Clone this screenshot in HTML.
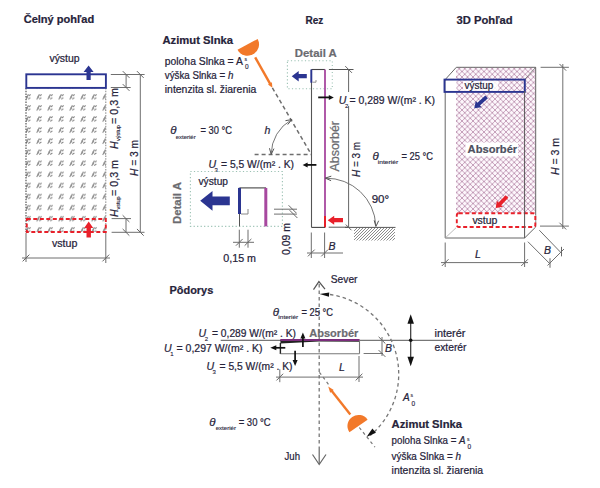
<!DOCTYPE html><html><head><meta charset="utf-8"><style>html,body{margin:0;padding:0;background:#fff;width:600px;height:488px;overflow:hidden}svg{display:block;font-family:"Liberation Sans",sans-serif}</style></head><body><svg width="600" height="488" viewBox="0 0 600 488" font-family="Liberation Sans, sans-serif">
<defs>
<pattern id="hx" x="23" y="91.2" width="11" height="11.08" patternUnits="userSpaceOnUse"><path d="M2.7,8.3 L5.4,3.1 M5.7,4.6 L7.7,3.2 M5.2,7.9 L7.4,6.4 M3.4,5.2 L5.0,6.6" stroke="#858585" stroke-width="1.05" fill="none"/></pattern>
<pattern id="lat" x="0" y="0" width="5.5" height="5.5" patternUnits="userSpaceOnUse"><rect width="5.5" height="5.5" fill="#fdf7fc"/><path d="M-1,-1 L6.5,6.5 M6.5,-1 L-1,6.5" stroke="#ad7a9f" stroke-width="0.7" fill="none"/></pattern>
<pattern id="gh" x="0" y="0" width="3" height="3" patternUnits="userSpaceOnUse"><path d="M0,3 L3,0 M-1,1 L1,-1 M2,4 L4,2" stroke="#666" stroke-width="0.75"/></pattern>
</defs>
<rect width="600" height="488" fill="#fff"/>
<text x="23.7" y="23.2" font-size="10.2" font-weight="bold" fill="#26233a" stroke="#26233a" stroke-width="0.2" textLength="70.5" lengthAdjust="spacingAndGlyphs" text-anchor="start" >Čelný pohľad</text>
<text x="305.5" y="23.5" font-size="10.2" font-weight="bold" fill="#26233a" stroke="#26233a" stroke-width="0.2" textLength="17.8" lengthAdjust="spacingAndGlyphs" text-anchor="start" >Rez</text>
<text x="456.6" y="23.5" font-size="10.2" font-weight="bold" fill="#26233a" stroke="#26233a" stroke-width="0.2" textLength="56" lengthAdjust="spacingAndGlyphs" text-anchor="start" >3D Pohľad</text>
<text x="169.5" y="293.8" font-size="10.2" font-weight="bold" fill="#26233a" stroke="#26233a" stroke-width="0.2" textLength="43.8" lengthAdjust="spacingAndGlyphs" text-anchor="start" >Pôdorys</text>
<rect x="26" y="88" width="80" height="144" fill="url(#hx)"/>
<line x1="26" y1="88" x2="26" y2="232" stroke="#555" stroke-width="1.2" stroke-dasharray="1.5,1.2" />
<line x1="105.8" y1="88" x2="105.8" y2="232" stroke="#888" stroke-width="1" stroke-dasharray="1.5,1.2" />
<rect x="26.3" y="74.3" width="79.6" height="13.6" fill="#fff" stroke="#2b3591" stroke-width="1.9"/>
<polygon points="90.70,80.00 90.70,71.90 93.60,71.90 88.60,65.40 83.60,71.90 86.50,71.90 86.50,80.00" fill="#2b3591"/>
<text x="49.4" y="62" font-size="10.2" font-weight="normal" fill="#26233a" stroke="#26233a" stroke-width="0.22" textLength="30.3" lengthAdjust="spacingAndGlyphs" text-anchor="start" >výstup</text>
<rect x="26.8" y="219" width="79" height="13" fill="none" stroke="#e8202a" stroke-width="1.9" stroke-dasharray="4,2.5"/>
<polygon points="90.90,237.50 90.90,228.00 93.20,228.00 88.70,221.50 84.20,228.00 86.50,228.00 86.50,237.50" fill="#e8202a"/>
<text x="51.9" y="246.7" font-size="10.2" font-weight="normal" fill="#26233a" stroke="#26233a" stroke-width="0.22" textLength="25.5" lengthAdjust="spacingAndGlyphs" text-anchor="start" >vstup</text>
<line x1="26" y1="233" x2="26" y2="262" stroke="#6f6f6f" stroke-width="1" />
<line x1="105.8" y1="233" x2="105.8" y2="263" stroke="#6f6f6f" stroke-width="1" />
<line x1="22" y1="258" x2="110" y2="258" stroke="#6f6f6f" stroke-width="1" />
<line x1="22.64" y1="261.36" x2="29.36" y2="254.64" stroke="#666" stroke-width="1.0" />
<line x1="102.44" y1="261.36" x2="109.16" y2="254.64" stroke="#666" stroke-width="1.0" />
<line x1="110.8" y1="74.5" x2="144.6" y2="74.5" stroke="#6f6f6f" stroke-width="1" />
<line x1="110.8" y1="87.5" x2="130.7" y2="87.5" stroke="#6f6f6f" stroke-width="1" />
<line x1="126.1" y1="74.5" x2="126.1" y2="87.5" stroke="#6f6f6f" stroke-width="1" />
<line x1="122.74" y1="71.14" x2="129.46" y2="77.86" stroke="#666" stroke-width="1.0" />
<line x1="122.74" y1="84.14" x2="129.46" y2="90.86" stroke="#666" stroke-width="1.0" />
<line x1="140.3" y1="74.5" x2="140.3" y2="232.3" stroke="#6f6f6f" stroke-width="1" />
<line x1="136.94" y1="71.14" x2="143.66" y2="77.86" stroke="#666" stroke-width="1.0" />
<line x1="136.94" y1="228.94" x2="143.66" y2="235.66" stroke="#666" stroke-width="1.0" />
<line x1="111.6" y1="218.6" x2="131" y2="218.6" stroke="#6f6f6f" stroke-width="1" />
<line x1="111.6" y1="232.3" x2="144.5" y2="232.3" stroke="#6f6f6f" stroke-width="1" />
<line x1="126" y1="218.6" x2="126" y2="232.3" stroke="#6f6f6f" stroke-width="1" />
<line x1="122.64" y1="215.24" x2="129.36" y2="221.96" stroke="#666" stroke-width="1.0" />
<line x1="122.64" y1="228.94" x2="129.36" y2="235.66" stroke="#666" stroke-width="1.0" />
<text x="118" y="149" font-size="10.5" font-weight="normal" fill="#26233a" stroke="#26233a" stroke-width="0.22" transform="rotate(-90 118 149)" text-anchor="start" ><tspan font-style="italic">H</tspan></text>
<text x="120" y="141" font-size="5.5" font-weight="normal" fill="#26233a" stroke="#26233a" stroke-width="0.12" transform="rotate(-90 120 141)" text-anchor="start" >výstup</text>
<text x="118" y="124" font-size="10.5" font-weight="normal" fill="#26233a" stroke="#26233a" stroke-width="0.22" textLength="36" lengthAdjust="spacingAndGlyphs" transform="rotate(-90 118 124)" text-anchor="start" >= 0,3 m</text>
<text x="118" y="217" font-size="10.5" font-weight="normal" fill="#26233a" stroke="#26233a" stroke-width="0.22" transform="rotate(-90 118 217)" text-anchor="start" ><tspan font-style="italic">H</tspan></text>
<text x="120" y="209.5" font-size="5.5" font-weight="normal" fill="#26233a" stroke="#26233a" stroke-width="0.12" transform="rotate(-90 120 209.5)" text-anchor="start" >vstup</text>
<text x="118" y="196" font-size="10.5" font-weight="normal" fill="#26233a" stroke="#26233a" stroke-width="0.22" textLength="36" lengthAdjust="spacingAndGlyphs" transform="rotate(-90 118 196)" text-anchor="start" >= 0,3 m</text>
<text x="137.5" y="176" font-size="10.5" font-weight="normal" fill="#26233a" stroke="#26233a" stroke-width="0.22" textLength="36" lengthAdjust="spacingAndGlyphs" transform="rotate(-90 137.5 176)" text-anchor="start" ><tspan font-style="italic">H</tspan> = 3 m</text>
<text x="162.5" y="44.3" font-size="10.8" font-weight="bold" fill="#26233a" stroke="#26233a" stroke-width="0.2" textLength="70.5" lengthAdjust="spacingAndGlyphs" text-anchor="start" >Azimut Slnka</text>
<text x="164.8" y="65" font-size="10" font-weight="normal" fill="#26233a" stroke="#26233a" stroke-width="0.22" textLength="78" lengthAdjust="spacingAndGlyphs" text-anchor="start" >poloha Slnka = A</text>
<text x="244.5" y="60.5" font-size="5" font-weight="normal" fill="#26233a" stroke="#26233a" stroke-width="0.11" text-anchor="start" >s</text>
<text x="245" y="68.5" font-size="6.5" font-weight="normal" fill="#26233a" stroke="#26233a" stroke-width="0.14" text-anchor="start" >0</text>
<text x="164.8" y="78.5" font-size="10" font-weight="normal" fill="#26233a" stroke="#26233a" stroke-width="0.22" textLength="68.5" lengthAdjust="spacingAndGlyphs" text-anchor="start" >výška Slnka = <tspan font-style="italic">h</tspan></text>
<text x="164.8" y="92.5" font-size="10" font-weight="normal" fill="#26233a" stroke="#26233a" stroke-width="0.22" textLength="91.5" lengthAdjust="spacingAndGlyphs" text-anchor="start" >intenzita sl. žiarenia</text>
<path d="M237.53,49.65 A11.4,11.4 0 0 0 257.67,38.95 Z" fill="#f2792a"/>
<line x1="255.2" y1="57.3" x2="270.44" y2="84.32" stroke="#f2792a" stroke-width="2.4" />
<polygon points="272.4,87.8 267.98,84.55 271.90,82.34" fill="#f2792a"/>
<line x1="272.4" y1="87.8" x2="311" y2="154" stroke="#6e6e6e" stroke-width="1.5" stroke-dasharray="4,3" />
<line x1="254.6" y1="154.5" x2="311" y2="154.5" stroke="#6e6e6e" stroke-width="1.5" stroke-dasharray="4,3" />
<path d="M291.5,119.7 A40,40 0 0 0 271.2,154.2" stroke="#666" stroke-width="0.9" fill="none" />
<path d="M287.73,124.55 L291.8,119.6 L285.48,120.65" stroke="#555" stroke-width="1" fill="none"/>
<path d="M269.48,148.23 L271.2,154.4 L273.96,148.62" stroke="#555" stroke-width="1" fill="none"/>
<text x="264.5" y="134.4" font-size="10.5" font-weight="normal" fill="#26233a" stroke="#26233a" stroke-width="0.22" font-style="italic" text-anchor="start" >h</text>
<text x="170.3" y="133.6" font-size="11.5" font-weight="normal" fill="#26233a" stroke="#26233a" stroke-width="0.22" font-style="italic" text-anchor="start" >θ</text>
<text x="175.7" y="138.5" font-size="5" font-weight="normal" fill="#26233a" stroke="#26233a" stroke-width="0.11" textLength="20" lengthAdjust="spacingAndGlyphs" text-anchor="start" >exteriér</text>
<text x="200.5" y="133.6" font-size="10.3" font-weight="normal" fill="#26233a" stroke="#26233a" stroke-width="0.22" textLength="31.5" lengthAdjust="spacingAndGlyphs" text-anchor="start" >= 30 °C</text>
<text x="294.8" y="56.9" font-size="10.8" font-weight="bold" fill="#6b6b70" stroke="#6b6b70" stroke-width="0.2" textLength="42" lengthAdjust="spacingAndGlyphs" text-anchor="start" >Detail A</text>
<rect x="287.4" y="60.8" width="44.9" height="27.9" fill="none" stroke="#9cc2b4" stroke-width="1.1" stroke-dasharray="1.2,2.3"/>
<polygon points="306.80,74.10 298.70,74.10 298.70,71.00 291.70,76.20 298.70,81.40 298.70,78.30 306.80,78.30" fill="#2b3591"/>
<line x1="311.5" y1="69.5" x2="311.5" y2="227.4" stroke="#555" stroke-width="1.1" />
<line x1="311.5" y1="69.5" x2="325" y2="69.5" stroke="#444" stroke-width="1.1" />
<line x1="325" y1="69.5" x2="325" y2="216" stroke="#a7489f" stroke-width="1.8" />
<line x1="325" y1="216" x2="325" y2="227.4" stroke="#e8202a" stroke-width="2" />
<line x1="311.3" y1="69.5" x2="311.3" y2="82.7" stroke="#2b3591" stroke-width="1.9" />
<path d="M312.5,82.2 L316,82.2 L316,80" stroke="#777" stroke-width="0.8" fill="none" />
<line x1="311.5" y1="227.4" x2="325" y2="227.4" stroke="#444" stroke-width="1.1" />
<line x1="328.7" y1="227.2" x2="349" y2="227.2" stroke="#555" stroke-width="1" />
<line x1="348.6" y1="69.5" x2="348.6" y2="227.4" stroke="#666" stroke-width="1" />
<line x1="328.9" y1="69.5" x2="353.5" y2="69.5" stroke="#555" stroke-width="1" />
<line x1="345.24" y1="66.14" x2="351.96" y2="72.86" stroke="#666" stroke-width="1.0" />
<rect x="336" y="92" width="100" height="14" fill="#fff"/>
<line x1="318.2" y1="97.4" x2="329.8" y2="97.4" stroke="#111" stroke-width="1.8" />
<polygon points="333.8,97.4 328.80,99.90 328.80,94.90" fill="#111"/>
<text x="338.7" y="104" font-size="10.5" font-weight="normal" fill="#26233a" stroke="#26233a" stroke-width="0.22" font-style="italic" text-anchor="start" >U</text>
<text x="345" y="107.5" font-size="6" font-weight="normal" fill="#26233a" stroke="#26233a" stroke-width="0.13" text-anchor="start" >2</text>
<text x="349.5" y="104" font-size="10.2" font-weight="normal" fill="#26233a" stroke="#26233a" stroke-width="0.22" textLength="85.5" lengthAdjust="spacingAndGlyphs" text-anchor="start" >= 0,289 W/(m² . K)</text>
<text x="339" y="171.5" font-size="12" font-weight="normal" fill="#6b6b70" stroke="#6b6b70" stroke-width="0.22" textLength="50.5" lengthAdjust="spacingAndGlyphs" transform="rotate(-90 339 171.5)" text-anchor="start" >Absorbér</text>
<text x="359.5" y="177" font-size="10.5" font-weight="normal" fill="#26233a" stroke="#26233a" stroke-width="0.22" textLength="35" lengthAdjust="spacingAndGlyphs" transform="rotate(-90 359.5 177)" text-anchor="start" ><tspan font-style="italic">H</tspan> = 3 m</text>
<text x="372.5" y="159.6" font-size="11.5" font-weight="normal" fill="#26233a" stroke="#26233a" stroke-width="0.22" font-style="italic" text-anchor="start" >θ</text>
<text x="377.7" y="164.3" font-size="5" font-weight="normal" fill="#26233a" stroke="#26233a" stroke-width="0.11" textLength="20.5" lengthAdjust="spacingAndGlyphs" text-anchor="start" >interiér</text>
<text x="401.5" y="159.6" font-size="10.3" font-weight="normal" fill="#26233a" stroke="#26233a" stroke-width="0.22" textLength="31.5" lengthAdjust="spacingAndGlyphs" text-anchor="start" >= 25 °C</text>
<text x="208.4" y="168.2" font-size="10.5" font-weight="normal" fill="#26233a" stroke="#26233a" stroke-width="0.22" font-style="italic" text-anchor="start" >U</text>
<text x="214.5" y="171.5" font-size="6" font-weight="normal" fill="#26233a" stroke="#26233a" stroke-width="0.13" text-anchor="start" >3</text>
<text x="221" y="168.2" font-size="10.2" font-weight="normal" fill="#26233a" stroke="#26233a" stroke-width="0.22" textLength="73" lengthAdjust="spacingAndGlyphs" text-anchor="start" >= 5,5 W/(m² . K)</text>
<line x1="316.4" y1="164.9" x2="306.6" y2="164.9" stroke="#111" stroke-width="1.8" />
<polygon points="302.6,164.9 307.60,162.40 307.60,167.40" fill="#111"/>
<path d="M325.6,178.2 A49.5,49.5 0 0 1 375.8,225.3" stroke="#666" stroke-width="0.9" fill="none" />
<path d="M331.31,176.17 L325.2,178.1 L331.07,180.66" stroke="#555" stroke-width="1" fill="none"/>
<path d="M374.18,220.33 L375.9,226.5 L378.66,220.72" stroke="#555" stroke-width="1" fill="none"/>
<text x="371.7" y="202.8" font-size="10.5" font-weight="normal" fill="#26233a" stroke="#26233a" stroke-width="0.22" textLength="17.5" lengthAdjust="spacingAndGlyphs" text-anchor="start" >90°</text>
<polygon points="343.00,218.05 334.20,218.05 334.20,215.70 327.70,220.20 334.20,224.70 334.20,222.35 343.00,222.35" fill="#e8202a"/>
<rect x="354" y="228" width="41" height="12.5" fill="url(#gh)"/>
<line x1="345" y1="227.4" x2="395.5" y2="227.4" stroke="#555" stroke-width="1" />
<line x1="345.77" y1="224.57" x2="351.43" y2="230.23" stroke="#666" stroke-width="1.0" />
<line x1="311.3" y1="232.5" x2="311.3" y2="258" stroke="#6f6f6f" stroke-width="1" />
<line x1="324.6" y1="232.5" x2="324.6" y2="258" stroke="#6f6f6f" stroke-width="1" />
<line x1="307" y1="253" x2="343" y2="253" stroke="#6f6f6f" stroke-width="1" />
<line x1="307.94" y1="256.36" x2="314.66" y2="249.64" stroke="#666" stroke-width="1.0" />
<line x1="321.24" y1="256.36" x2="327.96" y2="249.64" stroke="#666" stroke-width="1.0" />
<text x="328.5" y="250" font-size="10.5" font-weight="normal" fill="#26233a" stroke="#26233a" stroke-width="0.22" font-style="italic" text-anchor="start" >B</text>
<text x="181.4" y="224" font-size="11" font-weight="bold" fill="#6b6b70" stroke="#6b6b70" stroke-width="0.2" textLength="42" lengthAdjust="spacingAndGlyphs" transform="rotate(-90 181.4 224)" text-anchor="start" >Detail A</text>
<rect x="190.4" y="171.5" width="92" height="54.9" fill="none" stroke="#9cc2b4" stroke-width="1.1" stroke-dasharray="1.2,2.3"/>
<text x="198.5" y="185.4" font-size="10.2" font-weight="normal" fill="#26233a" stroke="#26233a" stroke-width="0.22" textLength="29.5" lengthAdjust="spacingAndGlyphs" text-anchor="start" >výstup</text>
<polygon points="229.80,196.45 212.50,196.45 212.50,190.95 200.20,200.80 212.50,210.65 212.50,205.15 229.80,205.15" fill="#2b3591"/>
<line x1="239.5" y1="187.9" x2="239.5" y2="226.4" stroke="#555" stroke-width="1" />
<line x1="239.5" y1="187.9" x2="266" y2="187.9" stroke="#444" stroke-width="1.1" />
<line x1="265.8" y1="187.9" x2="265.8" y2="226.4" stroke="#a7489f" stroke-width="3" />
<line x1="239.5" y1="187.9" x2="239.5" y2="214" stroke="#2b3591" stroke-width="3" />
<path d="M241,214 L248,214 L248,209" stroke="#888" stroke-width="1" fill="none" />
<line x1="274" y1="209.2" x2="297" y2="209.2" stroke="#6f6f6f" stroke-width="1" />
<line x1="274" y1="214.1" x2="297" y2="214.1" stroke="#6f6f6f" stroke-width="1" />
<line x1="288.61" y1="205.31" x2="296.39" y2="213.09" stroke="#666" stroke-width="1" />
<line x1="289.61" y1="210.21" x2="297.39" y2="217.99" stroke="#666" stroke-width="1" />
<line x1="239.3" y1="229.7" x2="239.3" y2="247.7" stroke="#6f6f6f" stroke-width="1" />
<line x1="248" y1="229.7" x2="248" y2="247.7" stroke="#6f6f6f" stroke-width="1" />
<line x1="233" y1="242.3" x2="254" y2="242.3" stroke="#6f6f6f" stroke-width="1" />
<line x1="235.94" y1="245.66" x2="242.66" y2="238.94" stroke="#666" stroke-width="1.0" />
<line x1="244.64" y1="245.66" x2="251.36" y2="238.94" stroke="#666" stroke-width="1.0" />
<text x="223.3" y="261.7" font-size="10.2" font-weight="normal" fill="#26233a" stroke="#26233a" stroke-width="0.22" textLength="32.7" lengthAdjust="spacingAndGlyphs" text-anchor="start" >0,15 m</text>
<text x="290" y="255" font-size="10.2" font-weight="normal" fill="#26233a" stroke="#26233a" stroke-width="0.22" textLength="32" lengthAdjust="spacingAndGlyphs" transform="rotate(-90 290 255)" text-anchor="start" >0,09 m</text>
<rect x="456" y="67.3" width="79.7" height="146" fill="url(#lat)"/>
<path d="M445.2,79.6 L456.3,67.3 L535.7,67.3 L535.7,227 L524.6,238 L445.2,238 Z" stroke="#666" stroke-width="1" fill="none" />
<line x1="524.6" y1="79.6" x2="535.7" y2="67.3" stroke="#666" stroke-width="0.8" />
<line x1="445.2" y1="238" x2="456" y2="227.8" stroke="#aaa" stroke-width="0.8" />
<rect x="445.5" y="80.5" width="11" height="10.5" fill="#fff"/>
<rect x="463" y="80.5" width="35" height="10.5" fill="#fff" opacity="0.85"/>
<rect x="444.5" y="79.6" width="80.3" height="12.3" fill="none" stroke="#2b3591" stroke-width="1.9"/>
<text x="464.5" y="88.6" font-size="10.2" font-weight="normal" fill="#26233a" stroke="#26233a" stroke-width="0.22" textLength="28.7" lengthAdjust="spacingAndGlyphs" text-anchor="start" >výstup</text>
<polygon points="485.30,95.41 477.39,102.81 475.78,101.10 474.30,108.30 481.59,107.31 479.98,105.59 487.90,98.19" fill="#2b3591"/>
<rect x="456.8" y="213.3" width="78.5" height="13.7" rx="2" fill="#fff" stroke="#e8202a" stroke-width="1.9" stroke-dasharray="4,2.5"/>
<text x="472.4" y="223.7" font-size="10.2" font-weight="normal" fill="#26233a" stroke="#26233a" stroke-width="0.22" textLength="25" lengthAdjust="spacingAndGlyphs" text-anchor="start" >vstup</text>
<line x1="524.6" y1="91" x2="524.6" y2="238" stroke="#555" stroke-width="1" />
<polygon points="505.64,195.17 498.53,202.48 496.84,200.84 495.70,208.10 502.93,206.77 501.25,205.13 508.36,197.83" fill="#e8202a"/>
<rect x="465.5" y="142.5" width="52.5" height="14" fill="#fff"/>
<text x="467.6" y="152.5" font-size="11.6" font-weight="bold" fill="#4d4f5e" stroke="#4d4f5e" stroke-width="0.2" textLength="49.6" lengthAdjust="spacingAndGlyphs" text-anchor="start" >Absorbér</text>
<line x1="540.6" y1="67.3" x2="568.9" y2="67.3" stroke="#6f6f6f" stroke-width="1" />
<line x1="540" y1="226.1" x2="568.9" y2="226.1" stroke="#6f6f6f" stroke-width="1" />
<line x1="562.8" y1="64" x2="562.8" y2="229" stroke="#6f6f6f" stroke-width="1" />
<line x1="559.44" y1="63.94" x2="566.16" y2="70.66" stroke="#666" stroke-width="1.0" />
<line x1="559.44" y1="222.74" x2="566.16" y2="229.46" stroke="#666" stroke-width="1.0" />
<text x="559" y="175" font-size="10.5" font-weight="normal" fill="#26233a" stroke="#26233a" stroke-width="0.22" textLength="37" lengthAdjust="spacingAndGlyphs" transform="rotate(-90 559 175)" text-anchor="start" ><tspan font-style="italic">H</tspan> = 3 m</text>
<line x1="445.2" y1="242.5" x2="445.2" y2="267" stroke="#6f6f6f" stroke-width="1" />
<line x1="524.6" y1="242.5" x2="524.6" y2="267" stroke="#6f6f6f" stroke-width="1" />
<line x1="441" y1="262.6" x2="528" y2="262.6" stroke="#6f6f6f" stroke-width="1" />
<line x1="441.84" y1="265.96" x2="448.56" y2="259.24" stroke="#666" stroke-width="1.0" />
<line x1="521.24" y1="265.96" x2="527.96" y2="259.24" stroke="#666" stroke-width="1.0" />
<text x="475" y="258" font-size="10.5" font-weight="normal" fill="#26233a" stroke="#26233a" stroke-width="0.22" font-style="italic" text-anchor="start" >L</text>
<line x1="539.3" y1="230.2" x2="561.5" y2="253.2" stroke="#6f6f6f" stroke-width="1" />
<line x1="527.9" y1="241.7" x2="550" y2="263.9" stroke="#6f6f6f" stroke-width="1" />
<line x1="564" y1="249" x2="547.5" y2="265.5" stroke="#6f6f6f" stroke-width="1" />
<line x1="561.5" y1="246.85" x2="561.5" y2="256.35" stroke="#666" stroke-width="1.0" />
<line x1="550.0" y1="258.25" x2="550.0" y2="267.75" stroke="#666" stroke-width="1.0" />
<text x="544" y="254" font-size="10.5" font-weight="normal" fill="#26233a" stroke="#26233a" stroke-width="0.22" font-style="italic" text-anchor="start" >B</text>
<line x1="319.2" y1="284" x2="319.2" y2="447" stroke="#777" stroke-width="1.3" stroke-dasharray="3.5,3" />
<path d="M313.5,289.6 L318.9,281.6 L325,289.2" stroke="#555" stroke-width="1.2" fill="none" />
<path d="M312.5,454.5 L319.2,464.5 L326,454.5" stroke="#666" stroke-width="1.2" fill="none" />
<line x1="319.2" y1="447" x2="319.2" y2="464" stroke="#666" stroke-width="1.2" />
<text x="330.8" y="282.5" font-size="10.2" font-weight="normal" fill="#26233a" stroke="#26233a" stroke-width="0.22" textLength="26.7" lengthAdjust="spacingAndGlyphs" text-anchor="start" >Sever</text>
<text x="284.5" y="459.5" font-size="10.2" font-weight="normal" fill="#26233a" stroke="#26233a" stroke-width="0.22" textLength="15.5" lengthAdjust="spacingAndGlyphs" text-anchor="start" >Juh</text>
<path d="M330,294.5 A80.5,80.5 0 0 1 370.2,435.6" stroke="#777" stroke-width="1.3" fill="none" stroke-dasharray="3.5,3" />
<polygon points="319.6,294 329.22,292.57 328.93,296.76" fill="#111"/>
<polygon points="366.5,437 372.39,428.47 375.93,432.68" fill="#111"/>
<line x1="220.7" y1="340.3" x2="452" y2="340.3" stroke="#777" stroke-width="1.2" />
<path d="M280.4,339.8 L359.5,339.8 L359.5,341.8 L319,341.6 L280.4,343.6 Z" fill="#222"/>
<line x1="280.4" y1="339.9" x2="359.5" y2="339.9" stroke="#7b2c7b" stroke-width="2" />
<line x1="280.4" y1="343" x2="280.4" y2="354" stroke="#222" stroke-width="1.4" />
<line x1="280.4" y1="353.7" x2="359.5" y2="353.7" stroke="#777" stroke-width="1.1" />
<line x1="359.5" y1="340" x2="359.5" y2="353.7" stroke="#777" stroke-width="1.1" />
<line x1="363.6" y1="353.5" x2="383" y2="353.5" stroke="#777" stroke-width="1" />
<line x1="382" y1="337" x2="382" y2="356" stroke="#6f6f6f" stroke-width="1" />
<line x1="378.64" y1="336.84" x2="385.36" y2="343.56" stroke="#666" stroke-width="1.0" />
<line x1="378.64" y1="350.14" x2="385.36" y2="356.86" stroke="#666" stroke-width="1.0" />
<text x="385" y="351.5" font-size="10.5" font-weight="normal" fill="#26233a" stroke="#26233a" stroke-width="0.22" font-style="italic" text-anchor="start" >B</text>
<line x1="302.9" y1="347.1" x2="302.9" y2="337.3" stroke="#111" stroke-width="1.7" />
<polygon points="302.9,332.5 305.40,338.50 300.40,338.50" fill="#111"/>
<line x1="285.3" y1="347.8" x2="275.1" y2="347.8" stroke="#111" stroke-width="1.7" />
<polygon points="270.3,347.8 276.30,345.30 276.30,350.30" fill="#111"/>
<line x1="295.1" y1="350.8" x2="295.1" y2="361.2" stroke="#111" stroke-width="1.7" />
<polygon points="295.1,366 292.60,360.00 297.60,360.00" fill="#111"/>
<text x="309.3" y="337" font-size="11.3" font-weight="bold" fill="#6b6b70" stroke="#6b6b70" stroke-width="0.2" textLength="49" lengthAdjust="spacingAndGlyphs" text-anchor="start" >Absorbér</text>
<line x1="279.8" y1="369.3" x2="279.8" y2="382.2" stroke="#6f6f6f" stroke-width="1" />
<line x1="359" y1="356" x2="359" y2="382" stroke="#6f6f6f" stroke-width="1" />
<line x1="276" y1="377.1" x2="363" y2="377.1" stroke="#6f6f6f" stroke-width="1" />
<line x1="276.44" y1="380.46" x2="283.16" y2="373.74" stroke="#666" stroke-width="1.0" />
<line x1="355.64" y1="380.46" x2="362.36" y2="373.74" stroke="#666" stroke-width="1.0" />
<text x="339" y="371" font-size="10.5" font-weight="normal" fill="#26233a" stroke="#26233a" stroke-width="0.22" font-style="italic" text-anchor="start" >L</text>
<line x1="410.7" y1="318" x2="410.7" y2="362" stroke="#333" stroke-width="1.2" />
<polygon points="410.7,314.3 413.95,323.80 407.45,323.80" fill="#111"/>
<polygon points="410.7,366.3 407.45,356.80 413.95,356.80" fill="#111"/>
<circle cx="410.7" cy="340.3" r="1.8" fill="#111"/>
<text x="434.5" y="336.5" font-size="10.2" font-weight="normal" fill="#26233a" stroke="#26233a" stroke-width="0.22" textLength="31" lengthAdjust="spacingAndGlyphs" text-anchor="start" >interér</text>
<text x="434.5" y="351.2" font-size="10.2" font-weight="normal" fill="#26233a" stroke="#26233a" stroke-width="0.22" textLength="32" lengthAdjust="spacingAndGlyphs" text-anchor="start" >exterér</text>
<text x="198.6" y="336.9" font-size="10.5" font-weight="normal" fill="#26233a" stroke="#26233a" stroke-width="0.22" font-style="italic" text-anchor="start" >U</text>
<text x="204.7" y="340.5" font-size="6" font-weight="normal" fill="#26233a" stroke="#26233a" stroke-width="0.13" text-anchor="start" >2</text>
<text x="212" y="336.9" font-size="10.2" font-weight="normal" fill="#26233a" stroke="#26233a" stroke-width="0.22" textLength="84" lengthAdjust="spacingAndGlyphs" text-anchor="start" >= 0,289 W/(m² . K)</text>
<text x="164" y="352" font-size="10.5" font-weight="normal" fill="#26233a" stroke="#26233a" stroke-width="0.22" font-style="italic" text-anchor="start" >U</text>
<text x="170.2" y="355.5" font-size="6" font-weight="normal" fill="#26233a" stroke="#26233a" stroke-width="0.13" text-anchor="start" >1</text>
<text x="176.5" y="352" font-size="10.2" font-weight="normal" fill="#26233a" stroke="#26233a" stroke-width="0.22" textLength="86" lengthAdjust="spacingAndGlyphs" text-anchor="start" >= 0,297 W/(m² . K)</text>
<text x="206.5" y="370.4" font-size="10.5" font-weight="normal" fill="#26233a" stroke="#26233a" stroke-width="0.22" font-style="italic" text-anchor="start" >U</text>
<text x="212.6" y="374" font-size="6" font-weight="normal" fill="#26233a" stroke="#26233a" stroke-width="0.13" text-anchor="start" >3</text>
<text x="219.5" y="370.4" font-size="10.2" font-weight="normal" fill="#26233a" stroke="#26233a" stroke-width="0.22" textLength="73" lengthAdjust="spacingAndGlyphs" text-anchor="start" >= 5,5 W/(m² . K)</text>
<text x="272.8" y="315.6" font-size="11.5" font-weight="normal" fill="#26233a" stroke="#26233a" stroke-width="0.22" font-style="italic" text-anchor="start" >θ</text>
<text x="278.3" y="319.3" font-size="5" font-weight="normal" fill="#26233a" stroke="#26233a" stroke-width="0.11" textLength="20" lengthAdjust="spacingAndGlyphs" text-anchor="start" >interiér</text>
<text x="301.5" y="315.6" font-size="10.3" font-weight="normal" fill="#26233a" stroke="#26233a" stroke-width="0.22" textLength="31.5" lengthAdjust="spacingAndGlyphs" text-anchor="start" >= 25 °C</text>
<text x="209.3" y="425.8" font-size="11.5" font-weight="normal" fill="#26233a" stroke="#26233a" stroke-width="0.22" font-style="italic" text-anchor="start" >θ</text>
<text x="215.7" y="429.5" font-size="5" font-weight="normal" fill="#26233a" stroke="#26233a" stroke-width="0.11" textLength="20.3" lengthAdjust="spacingAndGlyphs" text-anchor="start" >exteriér</text>
<text x="238.7" y="425.8" font-size="10.3" font-weight="normal" fill="#26233a" stroke="#26233a" stroke-width="0.22" textLength="32" lengthAdjust="spacingAndGlyphs" text-anchor="start" >= 30 °C</text>
<line x1="319.4" y1="372.3" x2="329" y2="385" stroke="#777" stroke-width="1.2" stroke-dasharray="3,3" />
<path d="M367.59,419.63 A11.1,11.1 0 0 0 349.41,432.37 Z" fill="#f2792a"/>
<line x1="350.3" y1="414.4" x2="331.19" y2="390.36" stroke="#f2792a" stroke-width="2.4" />
<polygon points="328.2,386.6 333.70,389.90 330.17,392.70" fill="#f2792a"/>
<line x1="359.3" y1="427.5" x2="375" y2="447.2" stroke="#777" stroke-width="1.2" stroke-dasharray="3,3" />
<text x="403" y="401.2" font-size="10" font-weight="normal" fill="#26233a" stroke="#26233a" stroke-width="0.22" font-style="italic" text-anchor="start" >A</text>
<text x="410.5" y="396.5" font-size="5" font-weight="normal" fill="#26233a" stroke="#26233a" stroke-width="0.11" text-anchor="start" >s</text>
<text x="411.5" y="405.5" font-size="6.5" font-weight="normal" fill="#26233a" stroke="#26233a" stroke-width="0.14" text-anchor="start" >0</text>
<text x="391.6" y="428.4" font-size="10.8" font-weight="bold" fill="#26233a" stroke="#26233a" stroke-width="0.2" textLength="70.4" lengthAdjust="spacingAndGlyphs" text-anchor="start" >Azimut Slnka</text>
<text x="391.6" y="444.4" font-size="10" font-weight="normal" fill="#26233a" stroke="#26233a" stroke-width="0.22" textLength="74" lengthAdjust="spacingAndGlyphs" text-anchor="start" >poloha Slnka = <tspan font-style="italic">A</tspan></text>
<text x="467" y="440.5" font-size="5" font-weight="normal" fill="#26233a" stroke="#26233a" stroke-width="0.11" text-anchor="start" >s</text>
<text x="467.5" y="448.5" font-size="6.5" font-weight="normal" fill="#26233a" stroke="#26233a" stroke-width="0.14" text-anchor="start" >0</text>
<text x="391.6" y="460" font-size="10" font-weight="normal" fill="#26233a" stroke="#26233a" stroke-width="0.22" textLength="69.5" lengthAdjust="spacingAndGlyphs" text-anchor="start" >výška Slnka = <tspan font-style="italic">h</tspan></text>
<text x="391.6" y="474.4" font-size="10" font-weight="normal" fill="#26233a" stroke="#26233a" stroke-width="0.22" textLength="91.5" lengthAdjust="spacingAndGlyphs" text-anchor="start" >intenzita sl. žiarenia</text>
</svg></body></html>
